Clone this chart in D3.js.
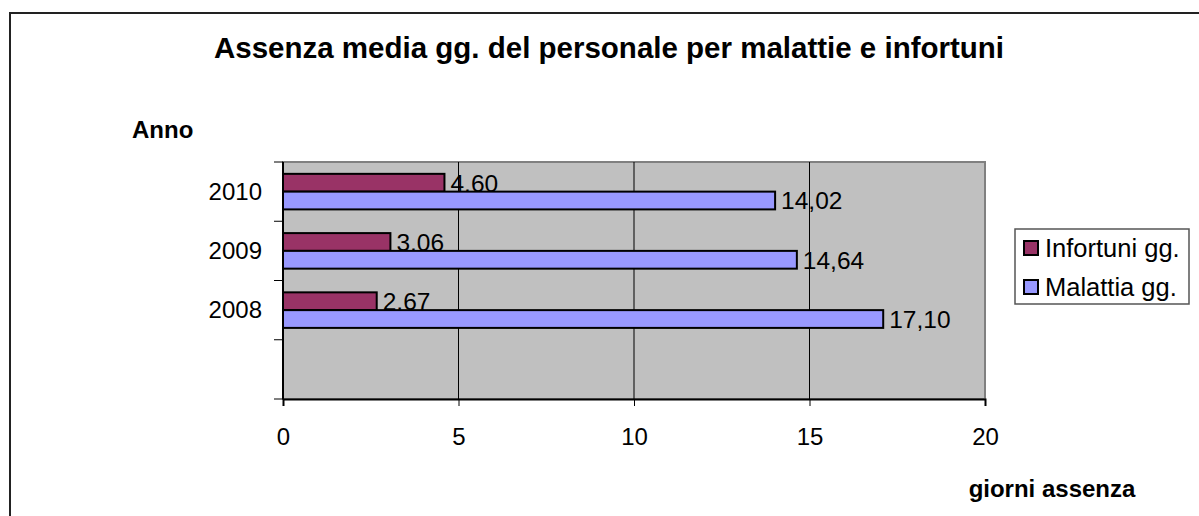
<!DOCTYPE html>
<html>
<head>
<meta charset="utf-8">
<script src="https://cdn.jsdelivr.net/npm/d3@7"></script>
<style>
  body { margin: 0; background: #fff; }
  text { font-family: "Liberation Sans", Arial, sans-serif; fill: #000; }
</style>
</head>
<body>
<script>
// categories top to bottom, last one is an empty slot in the original sheet
var years = ["2010", "2009", "2008", ""];
var infortuni = [4.60, 3.06, 2.67, null];
var malattia = [14.02, 14.64, 17.10, null];
var seriesNames = ["Infortuni gg.", "Malattia gg."];
var seriesColors = ["#993366", "#9999ff"];
var xTicks = [0, 5, 10, 15, 20];

var W = 1199, H = 516;
var margin = {top: 162, right: 214, bottom: 117, left: 283},
    width = W - margin.left - margin.right,
    height = H - margin.top - margin.bottom;

var svg = d3.select("body").append("svg")
    .attr("width", W)
    .attr("height", H);

// outer chart frame (runs off the right / bottom edge)
svg.append("rect")
    .attr("x", 10).attr("y", 13)
    .attr("width", W + 20).attr("height", H + 20)
    .attr("fill", "#fff")
    .attr("stroke", "#222")
    .attr("stroke-width", 2);

svg.append("text")
    .attr("x", 609)
    .attr("y", 58)
    .attr("text-anchor", "middle")
    .style("font-size", "29.5px")
    .style("font-weight", "bold")
    .text("Assenza media gg. del personale per malattie e infortuni");

svg.append("text")
    .attr("x", 132)
    .attr("y", 138)
    .style("font-size", "24px")
    .style("font-weight", "bold")
    .text("Anno");

svg.append("text")
    .attr("x", 1052)
    .attr("y", 497)
    .attr("text-anchor", "middle")
    .style("font-size", "24px")
    .style("font-weight", "bold")
    .text("giorni assenza");

var g = svg.append("g")
    .attr("transform", "translate(" + margin.left + "," + margin.top + ")");

var x = d3.scaleLinear()
    .domain([0, 20])
    .range([0, width]);

var y = d3.scaleBand()
    .domain(years)
    .range([0, height])
    .paddingInner(0.4)
    .paddingOuter(0.2);

var ySub = d3.scaleBand()
    .domain(seriesNames)
    .range([0, y.bandwidth()]);

var fmt = function(v) { return d3.format(".2f")(v).replace(".", ","); };

// plot area
g.append("rect")
    .attr("width", width)
    .attr("height", height)
    .attr("fill", "#c0c0c0")
    .attr("stroke", "#808080")
    .attr("stroke-width", 2);

// vertical gridlines
g.selectAll("line.grid")
    .data(xTicks.filter(function(d) { return d > 0 && d < 20; }))
    .enter().append("line")
        .attr("class", "grid")
        .attr("x1", function(d) { return x(d); })
        .attr("x2", function(d) { return x(d); })
        .attr("y1", 0)
        .attr("y2", height)
        .attr("stroke", "#000")
        .attr("stroke-width", 1);

var rows = years.map(function(yr, i) {
    return {year: yr, values: [infortuni[i], malattia[i]]};
});

var cat = g.selectAll("g.cat")
    .data(rows)
    .enter().append("g")
        .attr("class", "cat")
        .attr("transform", function(d) { return "translate(0," + y(d.year) + ")"; });

var bar = cat.selectAll("g.bar")
    .data(function(d) {
        return d.values.map(function(v, j) { return {name: seriesNames[j], value: v, color: seriesColors[j]}; })
            .filter(function(e) { return e.value != null; });
    })
    .enter().append("g")
        .attr("class", "bar");

bar.append("rect")
    .attr("x", 0)
    .attr("y", function(d) { return ySub(d.name); })
    .attr("width", function(d) { return x(d.value); })
    .attr("height", ySub.bandwidth())
    .attr("fill", function(d) { return d.color; })
    .attr("stroke", "#000")
    .attr("stroke-width", 2);

bar.append("text")
    .attr("x", function(d) { return x(d.value) + 6; })
    .attr("y", function(d) { return ySub(d.name) + ySub.bandwidth() / 2; })
    .attr("dy", "0.36em")
    .style("font-size", "24.5px")
    .text(function(d) { return fmt(d.value); });

// y axis: ticks sit between categories
var step = y.step();
var yBounds = d3.range(years.length + 1).map(function(i) { return i * step; });

g.append("line")
    .attr("x1", 0).attr("x2", 0)
    .attr("y1", 0).attr("y2", height)
    .attr("stroke", "#000")
    .attr("stroke-width", 2);

g.selectAll("line.ytick")
    .data(yBounds)
    .enter().append("line")
        .attr("class", "ytick")
        .attr("x1", -9).attr("x2", 0)
        .attr("y1", function(d) { return d; })
        .attr("y2", function(d) { return d; })
        .attr("stroke", "#000")
        .attr("stroke-width", 1);

g.selectAll("text.ylab")
    .data(years)
    .enter().append("text")
        .attr("class", "ylab")
        .attr("x", -21)
        .attr("y", function(d) { return y(d) + y.bandwidth() / 2; })
        .attr("dy", "0.33em")
        .attr("text-anchor", "end")
        .style("font-size", "24px")
        .text(function(d) { return d; });

// x axis
var xAxis = d3.axisBottom(x)
    .tickValues(xTicks)
    .tickSize(7)
    .tickPadding(22)
    .tickFormat(d3.format("d"));

var xa = g.append("g")
    .attr("transform", "translate(0," + height + ")")
    .call(xAxis);
xa.select(".domain").attr("stroke", "#000").attr("stroke-width", 2);
xa.selectAll(".tick line").attr("stroke", "#000");
xa.selectAll(".tick text")
    .style("font-size", "24px")
    .attr("fill", "#000")
    .style("font-family", "\"Liberation Sans\", Arial, sans-serif");

// legend
var legend = svg.append("g")
    .attr("transform", "translate(1015,229)");

legend.append("rect")
    .attr("width", 174)
    .attr("height", 75)
    .attr("fill", "#fff")
    .attr("stroke", "#555")
    .attr("stroke-width", 1.5);

var item = legend.selectAll("g.item")
    .data(seriesNames)
    .enter().append("g")
        .attr("class", "item")
        .attr("transform", function(d, i) { return "translate(0," + (19 + i * 39) + ")"; });

item.append("rect")
    .attr("x", 9)
    .attr("y", -7)
    .attr("width", 14)
    .attr("height", 14)
    .attr("fill", function(d, i) { return seriesColors[i]; })
    .attr("stroke", "#000")
    .attr("stroke-width", 2);

item.append("text")
    .attr("x", 30)
    .attr("dy", "0.36em")
    .style("font-size", "25.5px")
    .text(function(d) { return d; });
</script>
</body>
</html>
